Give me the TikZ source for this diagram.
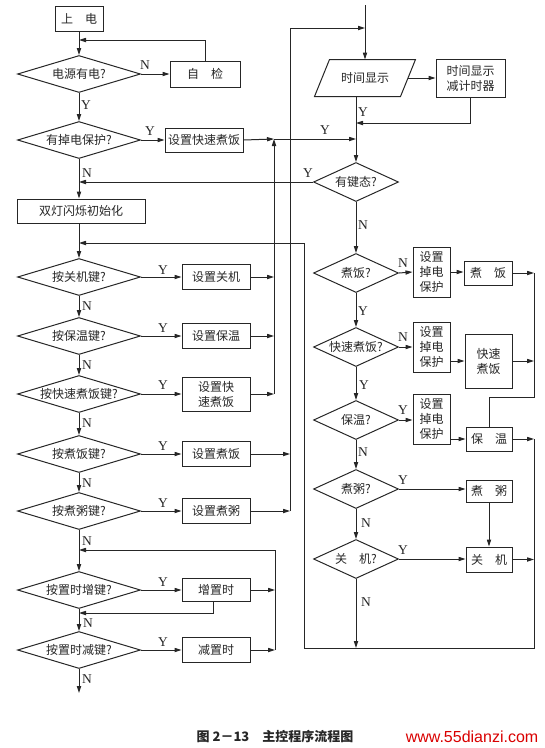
\documentclass[tikz,border=0pt]{standalone}
\usepackage{fontspec}
\setmainfont{Noto Sans CJK SC}
\newfontfamily\latf{Liberation Serif}
\newfontfamily\wmf{Liberation Sans}
\usetikzlibrary{shapes.geometric,arrows.meta,calc}
\begin{document}
\begin{tikzpicture}[x=1pt,y=-1pt,
  line width=1pt, color=black!85,
  every node/.style={font=\fontsize{12}{15}\selectfont},
  box/.style={draw, rectangle, inner sep=1pt, align=center},
  dl/.style={draw, diamond, inner sep=0pt, aspect=3.3, minimum width=123pt, minimum height=37pt},
  dr/.style={draw, diamond, inner sep=0pt, aspect=2.2, minimum width=85pt, minimum height=39pt},
  sb/.style={box, minimum width=68pt, minimum height=25pt},
  pb/.style={box, inner sep=0pt, minimum width=37pt, minimum height=50pt},
  ar/.style={-{Triangle[length=7pt,width=4.2pt]}},
  yn/.style={font=\latf\fontsize{13.5}{13.5}\selectfont, inner sep=0pt},
]
\useasboundingbox (0,0) rectangle (545,748);

% ---------- left column ----------
\node[box, minimum width=48pt, minimum height=25pt] (pw) at (79,18.5) {上　电};
\node[dl] (d1) at (79,74) {电源有电?};
\node[box, minimum width=70pt, minimum height=26pt] (zj) at (205,74) {自　检};
\node[dl] (d2) at (79,140) {有掉电保护?};
\node[box, minimum width=78pt, minimum height=24pt] (skk) at (204,140) {设置快速煮饭};
\node[box, minimum width=128pt, minimum height=24pt] (init) at (81,211) {双灯闪烁初始化};
\node[dl] (d3) at (79,277) {按关机键?};
\node[sb] (b3) at (216,277) {设置关机};
\node[dl] (d4) at (79,336) {按保温键?};
\node[sb] (b4) at (216,336) {设置保温};
\node[dl] (d5) at (79,394) {按快速煮饭键?};
\node[sb, minimum height=34pt] (b5) at (216,394) {设置快\\速煮饭};
\node[dl] (d6) at (79,454) {按煮饭键?};
\node[sb] (b6) at (216,454) {设置煮饭};
\node[dl] (d7) at (79,511) {按煮粥键?};
\node[sb] (b7) at (216,511) {设置煮粥};
\node[dl] (d8) at (79,590) {按置时增键?};
\node[sb, minimum height=23pt] (b8) at (216,590) {增置时};
\node[dl] (d9) at (79,650) {按置时减键?};
\node[sb] (b9) at (216,650) {减置时};

% ---------- right column ----------
\node[inner sep=0pt, minimum width=100pt, minimum height=36pt] (disp) at (365,78) {时间显示};
\draw ($(disp.north west)+(15,0)$) -- (disp.north east) -- ($(disp.south east)+(-15,0)$) -- (disp.south west) -- cycle;
\node[box, minimum width=69pt, minimum height=38pt] (tm) at (470.5,78) {时间显示\\减计时器};
\node[dr] (kt) at (356,182) {有键态?};
\node[dr] (c1) at (356,273) {煮饭?};
\node[pb] (p1) at (431.5,272) {设置\\掉电\\保护};
\node[box, minimum width=48pt, minimum height=24pt] (r1) at (488,273) {煮　饭};
\node[dr] (c2) at (356,347) {快速煮饭?};
\node[pb] (p2) at (431.5,347) {设置\\掉电\\保护};
\node[box, minimum width=47pt, minimum height=54pt] (r2) at (488.5,361) {快速\\煮饭};
\node[dr] (c3) at (356,420) {保温?};
\node[pb] (p3) at (431.5,419) {设置\\掉电\\保护};
\node[box, minimum width=46pt, minimum height=24pt] (r3) at (489,439) {保　温};
\node[dr] (c4) at (356,489) {煮粥?};
\node[box, minimum width=46pt, minimum height=22pt] (r4) at (489,491) {煮　粥};
\node[dr] (c5) at (356,559) {关　机?};
\node[box, minimum width=46pt, minimum height=25pt] (r5) at (489,559.5) {关　机};

% ---------- helper coordinates ----------
\coordinate (top) at (365,5);
\coordinate (ja0) at (79,40);
\coordinate (ja) at (274,139);
\coordinate (jb) at (356,139);
\coordinate (jm) at (356,123);
\coordinate (jc) at (290,28);
\coordinate (xr) at (534,0);
\coordinate (k1) at (534,397);
\coordinate (br) at (534,648);
\coordinate (bl) at (304,648);
\coordinate (tl) at (304,243);
\coordinate (jd) at (275,550);
\coordinate (je) at (213,613);
\coordinate (endl) at (79,693);

% ---------- left connectors ----------
\draw[ar] (pw.south) -- (d1.north);
\draw[ar] (d1.east) -- (zj.west);
\draw[ar] (zj.north) |- (ja0);
\draw[ar] (d1.south) -- (d2.north);
\draw[ar] (d2.east) -- (skk.west);
\draw[ar] (d2.south) -- (d2.south |- init.north);
\draw[ar] (init.south -| d3.north) -- (d3.north);
\draw[ar] (d3.south) -- (d4.north);
\draw[ar] (d4.south) -- (d5.north);
\draw[ar] (d5.south) -- (d6.north);
\draw[ar] (d6.south) -- (d7.north);
\draw[ar] (d7.south) -- (d8.north);
\draw[ar] (d8.south) -- (d9.north);
\draw[ar] (d9.south) -- (endl);
\draw[ar] (d3.east) -- (b3.west);
\draw[ar] (d4.east) -- (b4.west);
\draw[ar] (d5.east) -- (b5.west);
\draw[ar] (d6.east) -- (b6.west);
\draw[ar] (d7.east) -- (b7.west);
\draw[ar] (d8.east) -- (b8.west);
\draw[ar] (d9.east) -- (b9.west);

% collectors
\draw[ar] (skk.east) -- (ja);
\draw[ar] (ja) -- (jb);
\draw[ar] (b3.east) -- (b3.east -| ja);
\draw[ar] (b4.east) -- (b4.east -| ja);
\draw[ar] (b5.east) -- (b5.east -| ja);
\draw[ar] (b5.east -| ja) -- (ja);
\draw[ar] (b6.east) -- (b6.east -| jc);
\draw[ar] (b7.east) -- (b7.east -| jc);
\draw[ar] (b7.east -| jc) -- (jc) -- (jc -| top);
\draw[ar] (b8.east) -- (b8.east -| jd);
\draw[ar] (b9.east) -- (b9.east -| jd);
\draw[ar] (b9.east -| jd) -- (jd) -- (jd -| d1);
\draw[ar] (je |- b8.south) -- (je) -- (je -| d1);

% ---------- right connectors ----------
\draw[ar] (top) -- (disp.north);
\draw[ar] ($(disp.east)+(-7.5,0)$) -- (tm.west);
\draw[ar] (tm.south) |- (jm);
\draw[ar] (disp.south -| kt.north) -- (kt.north);
\draw[ar] (kt.west) -- (kt.west -| d1);
\draw[ar] (kt.south) -- (c1.north);
\draw[ar] (c1.south) -- (c2.north);
\draw[ar] (c2.south) -- (c3.north);
\draw[ar] (c3.south) -- (c4.north);
\draw[ar] (c4.south) -- (c5.north);
\draw[ar] (c1.east) -- (p1.west);
\draw[ar] (p1.east) -- (p1.east -| r1.west);
\draw[ar] (c2.east) -- (p2.west);
\draw[ar] (p2.east |- r2.west) -- (r2.west);
\draw[ar] (c3.east) -- (c3.east -| p3.west);
\draw[ar] (p3.east |- r3.west) -- (r3.west);
\draw[ar] (c4.east) -- (c4.east -| r4.west);
\draw[ar] (r4.south) -- (r5.north);
\draw[ar] (c5.east) -- (c5.east -| r5.west);
\draw[ar] (r1.east) -- (r1.east -| xr);
\draw[ar] (r2.east) -- (r2.east -| xr);
\draw (r1.east -| xr) -- (k1) -- (r3.north |- k1) -- (r3.north);
\draw[ar] (r3.east) -- (r3.east -| xr);
\draw[ar] (r5.east) -- (r5.east -| xr);
\draw[ar] (r3.east -| xr) -- (br) -- (bl) -- (tl) -- (tl -| d1);
\draw[ar] (c5.south) -- (c5.south |- bl);

% ---------- Y / N labels ----------
\node[yn] (l1) at (145,65) {N};
\node[yn] (l2) at (86,105) {Y};
\node[yn] (l3) at (150,131) {Y};
\node[yn] (l4) at (87,173) {N};
\node[yn] (l5) at (163,270) {Y};
\node[yn] (l6) at (87,306) {N};
\node[yn] (l7) at (163,328) {Y};
\node[yn] (l8) at (87,365) {N};
\node[yn] (l9) at (163,385) {Y};
\node[yn] (l10) at (87,423) {N};
\node[yn] (l11) at (163,446) {Y};
\node[yn] (l12) at (87,483) {N};
\node[yn] (l13) at (163,503) {Y};
\node[yn] (l14) at (87,541) {N};
\node[yn] (l15) at (163,582) {Y};
\node[yn] (l16) at (88,623) {N};
\node[yn] (l17) at (163,642) {Y};
\node[yn] (l18) at (87,679) {N};
\node[yn] (r1l) at (363,112) {Y};
\node[yn] (r2l) at (325,130) {Y};
\node[yn] (r3l) at (308,173) {Y};
\node[yn] (r4l) at (363,225) {N};
\node[yn] (r5l) at (403,263) {N};
\node[yn] (r6l) at (363,311) {Y};
\node[yn] (r7l) at (403,337) {N};
\node[yn] (r8l) at (364,385) {Y};
\node[yn] (r9l) at (403,410) {Y};
\node[yn] (r10l) at (363,452) {N};
\node[yn] (r11l) at (403,480) {Y};
\node[yn] (r12l) at (366,523) {N};
\node[yn] (r13l) at (403,550) {Y};
\node[yn] (r14l) at (366,602) {N};

% ---------- caption ----------
\node[font=\fontsize{13}{13}\selectfont\bfseries] (cap) at (275,737) {图 2－13　主控程序流程图};
\node[text=red!85!black, font=\wmf\fontsize{16}{16}\selectfont] (wm) at (472,737) {www.55dianzi.com};
\end{tikzpicture}
\end{document}
